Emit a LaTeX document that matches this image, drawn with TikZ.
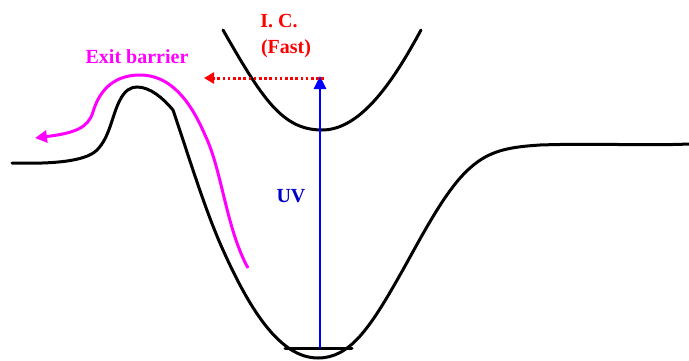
\documentclass[tikz,border=0pt]{standalone}
\usepackage{fontspec}
\setmainfont{Liberation Serif}
\usetikzlibrary{arrows.meta}
\definecolor{icred}{RGB}{255,0,0}
\definecolor{uvblue}{RGB}{0,0,255}
\definecolor{uvtext}{RGB}{0,0,200}
\definecolor{exitmag}{RGB}{255,0,255}
\tikzset{
  pes/.style={line width=3pt, black, line cap=round},
  lbl/.style={font=\bfseries\fontsize{20}{22}\selectfont, inner sep=0pt}
}
\begin{document}
\begin{tikzpicture}[x=1pt,y=-1pt]
\useasboundingbox (0,0) rectangle (689,360);
% ground state surface
\draw[pes] (12,163) .. controls (50,164) and (85,162) .. (97,150)
  .. controls (110,137) and (112,115) .. (120,100)
  .. controls (125,90) and (131,87) .. (137,87)
  .. controls (150,87) and (163,98) .. (173,110)
  .. controls (190,160) and (205,210) .. (223,250)
  .. controls (250,310) and (280,358) .. (318,358)
  .. controls (350,358) and (370,328) .. (400,275)
  .. controls (422,236) and (445,190) .. (470,168)
  .. controls (490,150) and (510,147) .. (540,145)
  .. controls (600,143) and (640,146) .. (689,144);
% excited state surface
\draw[pes] (223,30) .. controls (262,98) and (282,130) .. (322,130)
  .. controls (362,130) and (395,78) .. (421,30);
% vibrational level
\coordinate (lvlL) at (285,348);
\coordinate (lvlR) at (352,348);
\draw[pes] (lvlL) -- (lvlR);
% UV arrow
\coordinate (uvbase) at (320,348);
\coordinate (uvtop) at (320,76);
\draw[uvblue, line width=2.6pt, -{Triangle[length=13pt,width=12pt]}] (uvbase) -- (uvtop);
\node[lbl, text=uvtext] (uv) at (291,196) {UV};
% IC arrow
\coordinate (icstart) at (324,78);
\coordinate (icend) at (204,78);
\draw[icred, line width=3pt, dash pattern=on 2.6pt off 2.6pt, -{Triangle[length=10pt,width=11pt]}] (icstart) -- (icend);
\node[lbl, text=icred] (ic1) at (279,21) {I. C.};
\node[lbl, text=icred] (ic2) at (286,49) {(Fast)};
% exit barrier path
\coordinate (exs) at (248,268);
\coordinate (exe) at (35,138);
\draw[exitmag, line width=3pt, -{Triangle[length=12pt,width=12pt]}] (exs)
  .. controls (226,228) and (222,170) .. (205,135)
  .. controls (190,100) and (170,75) .. (140,75)
  .. controls (110,75) and (98,95) .. (93,112)
  .. controls (88,128) and (75,133) .. (exe);
\node[lbl, text=exitmag] (exit) at (137,57) {Exit barrier};
\end{tikzpicture}
\end{document}
